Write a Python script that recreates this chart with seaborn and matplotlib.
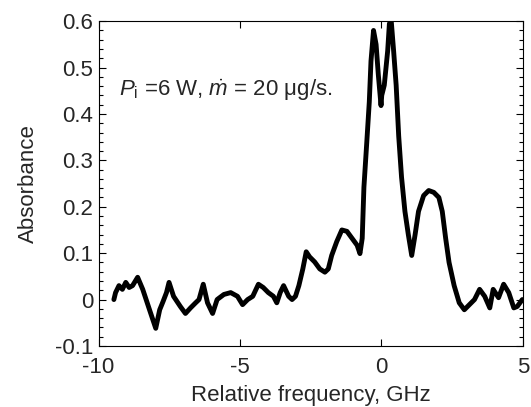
import numpy as np
import pandas as pd
import matplotlib
matplotlib.use("Agg")
import matplotlib.pyplot as plt
from matplotlib.ticker import MultipleLocator, FuncFormatter
import seaborn as sns

# Values
freq_ghz = [-9.46, -9.40, -9.28, -9.16, -9.04, -8.92, -8.80, -8.70, -8.62, -8.44, -8.20, -7.98, -7.84, -7.72,
            -7.60, -7.51, -7.35, -7.11, -6.93, -6.75, -6.57, -6.45, -6.30, -6.15, -5.97,
            -5.81, -5.57, -5.33, -5.09, -4.91, -4.73, -4.55, -4.35, -4.18, -4.00,
            -3.82, -3.70, -3.58, -3.46, -3.28, -3.16, -3.04, -2.92, -2.78, -2.66,
            -2.54, -2.36, -2.18, -2.00, -1.88, -1.76, -1.58, -1.40, -1.22, -1.04,
            -0.86, -0.76, -0.68, -0.62, -0.52, -0.43, -0.37, -0.28, -0.19, -0.11,
            -0.015, 0.01, 0.10, 0.22, 0.28, 0.34, 0.43, 0.52, 0.61, 0.71,
            0.83, 0.95, 1.07, 1.19, 1.31, 1.49, 1.67, 1.85, 2.03, 2.15,
            2.27, 2.39, 2.57, 2.75, 2.93, 3.11, 3.29, 3.47, 3.65, 3.83,
            3.95, 4.14, 4.32, 4.50, 4.68, 4.80, 4.98]
absorbance = [0.000, 0.015, 0.030, 0.022, 0.037, 0.026, 0.030, 0.040, 0.048, 0.022, -0.022, -0.062, -0.022, -0.004,
              0.015, 0.037, 0.007, -0.015, -0.030, -0.018, -0.007, 0.000, 0.033, -0.007, -0.030,
              0.000, 0.011, 0.015, 0.007, -0.011, 0.000, 0.007, 0.033, 0.026, 0.015,
              0.007, -0.007, 0.015, 0.030, 0.007, 0.000, 0.007, 0.030, 0.066, 0.103,
              0.092, 0.081, 0.066, 0.059, 0.066, 0.095, 0.125, 0.150, 0.147, 0.132,
              0.117, 0.099, 0.132, 0.242, 0.338, 0.426, 0.514, 0.580, 0.550, 0.484,
              0.418, 0.440, 0.462, 0.536, 0.594, 0.605, 0.536, 0.462, 0.352, 0.264,
              0.190, 0.140, 0.095, 0.140, 0.190, 0.224, 0.235, 0.231, 0.220, 0.190,
              0.132, 0.080, 0.030, -0.007, -0.022, -0.011, 0.000, 0.022, 0.007, -0.018,
              0.022, 0.004, 0.033, 0.015, -0.018, -0.015, 0.000]

x_ticks = [-10, -5, 0, 5]
y_ticks = [-0.1, 0.0, 0.1, 0.2, 0.3, 0.4, 0.5, 0.6]

df = pd.DataFrame({"Relative frequency, GHz": freq_ghz, "Absorbance": absorbance})

sns.set_style("ticks")
plt.rcParams["font.family"] = ["Liberation Sans", "DejaVu Sans"]
plt.rcParams["mathtext.fontset"] = "custom"
plt.rcParams["mathtext.rm"] = "Liberation Sans"
plt.rcParams["mathtext.it"] = "Liberation Sans:italic"

FS = 16

fig = plt.figure(figsize=(5.31, 4.07), dpi=100)
ax = fig.add_axes([0.1857, 0.150, 0.799, 0.798])

sns.lineplot(data=df, x="Relative frequency, GHz", y="Absorbance", sort=False,
             color="black", linewidth=3.5, ax=ax)

ax.set_xlim(-10, 5)
ax.set_ylim(-0.1, 0.6)
ax.set_xticks(x_ticks)
ax.set_yticks(y_ticks)
ax.yaxis.set_minor_locator(MultipleLocator(0.02))
ax.yaxis.set_major_formatter(FuncFormatter(lambda v, p: "0" if abs(v) < 1e-9 else f"{v:.1f}"))
ax.xaxis.set_major_formatter(FuncFormatter(lambda v, p: f"{v:.0f}"))
ax.tick_params(which="both", direction="in", top=True, right=True, labelsize=FS,
               color="black", width=0.8)
ax.tick_params(which="major", length=5)
ax.tick_params(which="minor", length=3)
ax.tick_params(axis="x", which="major", pad=8)
ax.tick_params(axis="y", which="major", pad=4)
for s in ax.spines.values():
    s.set_visible(True)
    s.set_linewidth(0.8)
    s.set_color("black")

ax.set_xlabel("Relative frequency, GHz", fontsize=FS, labelpad=5)
ax.set_ylabel("Absorbance", fontsize=FS, labelpad=11)

ax.text(-9.28, 0.45, r"$P_{\mathrm{i}}$ =6 W, $\dot{m}$ = 20 μg/s.", fontsize=FS,
        va="center", ha="left")

fig.savefig("out.png", dpi=100)
